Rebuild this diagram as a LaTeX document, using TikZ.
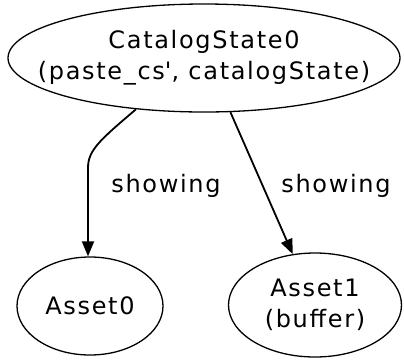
\documentclass[tikz,border=0pt]{standalone}
\usepackage{fontspec}
\setmainfont{DejaVu Sans}[LetterSpace=7]
\usetikzlibrary{shapes.geometric,arrows.meta}
\begin{document}
\begin{tikzpicture}[x=1pt,y=-1pt,
  st/.style={draw, ellipse, line width=1.3pt, inner sep=0pt},
  txt/.style={font=\fontsize{24}{31}\selectfont, align=center},
  edge/.style={line width=1.8pt, -{Triangle[length=15pt,width=12pt]}},
  lbl/.style={font=\fontsize{24}{31}\selectfont}]
\useasboundingbox (0,0) rectangle (404,360);
\node[st, minimum width=392pt, minimum height=108pt,
  label={[txt]center:CatalogState0\\(paste\_cs\textquotesingle, catalogState)}] (top) at (204,58) {};
\node[st, minimum width=146pt, minimum height=98pt, txt] (a0) at (90,306) {Asset0};
\node[st, minimum width=173pt, minimum height=104pt, txt] (a1) at (315,305) {Asset1\\(buffer)};
\coordinate (bend) at (88,168);
\draw[edge] (top.217) .. controls (100,140) and (88,150) .. (bend) -- (bend |- a0.north);
\draw[edge] (top.-64) -- (a1);
\node[lbl] (l0) at (166,186) {showing};
\node[lbl] (l1) at (336,186) {showing};
\end{tikzpicture}
\end{document}
